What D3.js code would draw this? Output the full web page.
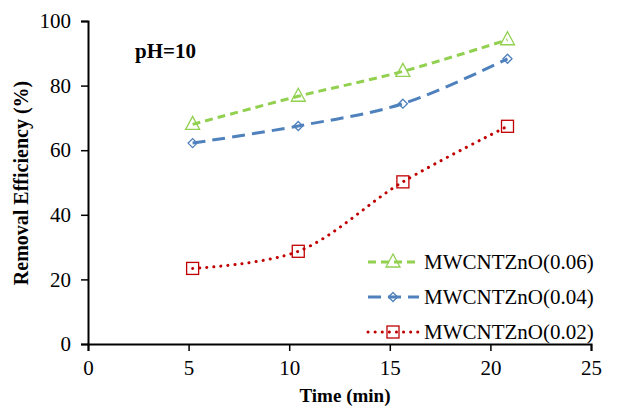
<!DOCTYPE html>
<html>
<head>
<meta charset="utf-8">
<script src="https://cdn.jsdelivr.net/npm/d3@7"></script>
<style>
  body { margin: 0; background: #fff; }
  svg text { font-family: "Liberation Serif", "Times New Roman"; fill: #000; }
</style>
</head>
<body>
<svg width="624" height="411"></svg>
<script>
// data
const times = [5.2, 10.45, 15.65, 20.85];
const seriesNames = ["MWCNTZnO(0.06)", "MWCNTZnO(0.04)", "MWCNTZnO(0.02)"];
const eff006 = [68.0, 76.7, 84.4, 94.2];
const eff004 = [62.2, 67.5, 74.4, 88.3];
const eff002 = [23.4, 28.7, 50.2, 67.4];
const xTicks = [0, 5, 10, 15, 20, 25];
const yTicks = [0, 20, 40, 60, 80, 100];

const svg = d3.select("svg");
const margin = { left: 88, top: 21 };
const width = 503;
const height = 323;
const serif = "'Liberation Serif', 'Times New Roman'";

const g = svg.append("g").attr("transform", `translate(${margin.left},${margin.top})`);

const xs = d3.scaleLinear().domain([0, 25]).range([0, width]);
const ys = d3.scaleLinear().domain([0, 100]).range([height, 0]);

// axes
const xAxis = g.append("g")
  .attr("transform", `translate(0,${height})`)
  .call(d3.axisBottom(xs).tickValues(xTicks).tickSize(7).tickPadding(9));
const yAxis = g.append("g")
  .call(d3.axisLeft(ys).tickValues(yTicks).tickSize(7).tickPadding(10));

[xAxis, yAxis].forEach(a => {
  a.attr("font-family", serif).attr("font-size", 21);
  a.select(".domain").attr("stroke", "#000").attr("stroke-width", 2);
  a.selectAll(".tick line").attr("stroke", "#000").attr("stroke-width", 1.5);
  a.selectAll(".tick text").attr("fill", "#000");
});

// titles
svg.append("text")
  .attr("x", 345)
  .attr("y", 402)
  .attr("text-anchor", "middle")
  .attr("font-size", 19)
  .attr("font-weight", "bold")
  .text("Time (min)");

svg.append("text")
  .attr("transform", "translate(28,183) rotate(-90)")
  .attr("text-anchor", "middle")
  .attr("font-size", 20)
  .attr("font-weight", "bold")
  .text("Removal Efficiency (%)");

svg.append("text")
  .attr("x", 135)
  .attr("y", 58)
  .attr("font-size", 21)
  .attr("font-weight", "bold")
  .text("pH=10");

// series setup
const series = [
  { name: seriesNames[0], values: eff006, color: "#92D050", dash: "8,5", marker: "triangle" },
  { name: seriesNames[1], values: eff004, color: "#4F81BD", dash: "13,7", marker: "diamond" },
  { name: seriesNames[2], values: eff002, color: "#C00000", dash: "0.1,7", marker: "square" }
];

function drawMarker(sel, type, color) {
  if (type === "triangle") {
    sel.append("path").attr("d", "M0,-8 L7,5 L-7,5 Z")
      .attr("fill", "none").attr("stroke", color).attr("stroke-width", 1.3);
  } else if (type === "diamond") {
    sel.append("path").attr("d", "M0,-4.5 L4.5,0 L0,4.5 L-4.5,0 Z")
      .attr("fill", "none").attr("stroke", color).attr("stroke-width", 1.3);
  } else {
    sel.append("rect").attr("x", -6).attr("y", -6).attr("width", 12).attr("height", 12)
      .attr("fill", "none").attr("stroke", color).attr("stroke-width", 1.3);
  }
}

const line = d3.line()
  .x(d => xs(d[0]))
  .y(d => ys(d[1]))
  .curve(d3.curveCatmullRom.alpha(0.5));

series.forEach(s => {
  const pts = times.map((t, i) => [t, s.values[i]]);
  g.append("path")
    .datum(pts)
    .attr("fill", "none")
    .attr("stroke", s.color)
    .attr("stroke-width", 3)
    .attr("stroke-linecap", s.marker === "square" ? "round" : "butt")
    .attr("stroke-dasharray", s.dash)
    .attr("d", line);

  pts.forEach(p => {
    const m = g.append("g").attr("transform", `translate(${xs(p[0])},${ys(p[1])})`);
    drawMarker(m, s.marker, s.color);
  });
});

// legend
const legend = svg.append("g").attr("transform", "translate(368,262)");
series.forEach((s, i) => {
  const row = legend.append("g").attr("transform", `translate(0,${i * 35})`);
  row.append("line")
    .attr("x1", 0).attr("x2", 51).attr("y1", 0).attr("y2", 0)
    .attr("stroke", s.color)
    .attr("stroke-width", 3)
    .attr("stroke-linecap", s.marker === "square" ? "round" : "butt")
    .attr("stroke-dasharray", s.dash);
  const m = row.append("g").attr("transform", "translate(25,0)");
  drawMarker(m, s.marker, s.color);
  row.append("text")
    .attr("x", 56)
    .attr("y", 0)
    .attr("dy", "0.35em")
    .attr("font-size", 21)
    .text(s.name);
});
</script>
</body>
</html>
